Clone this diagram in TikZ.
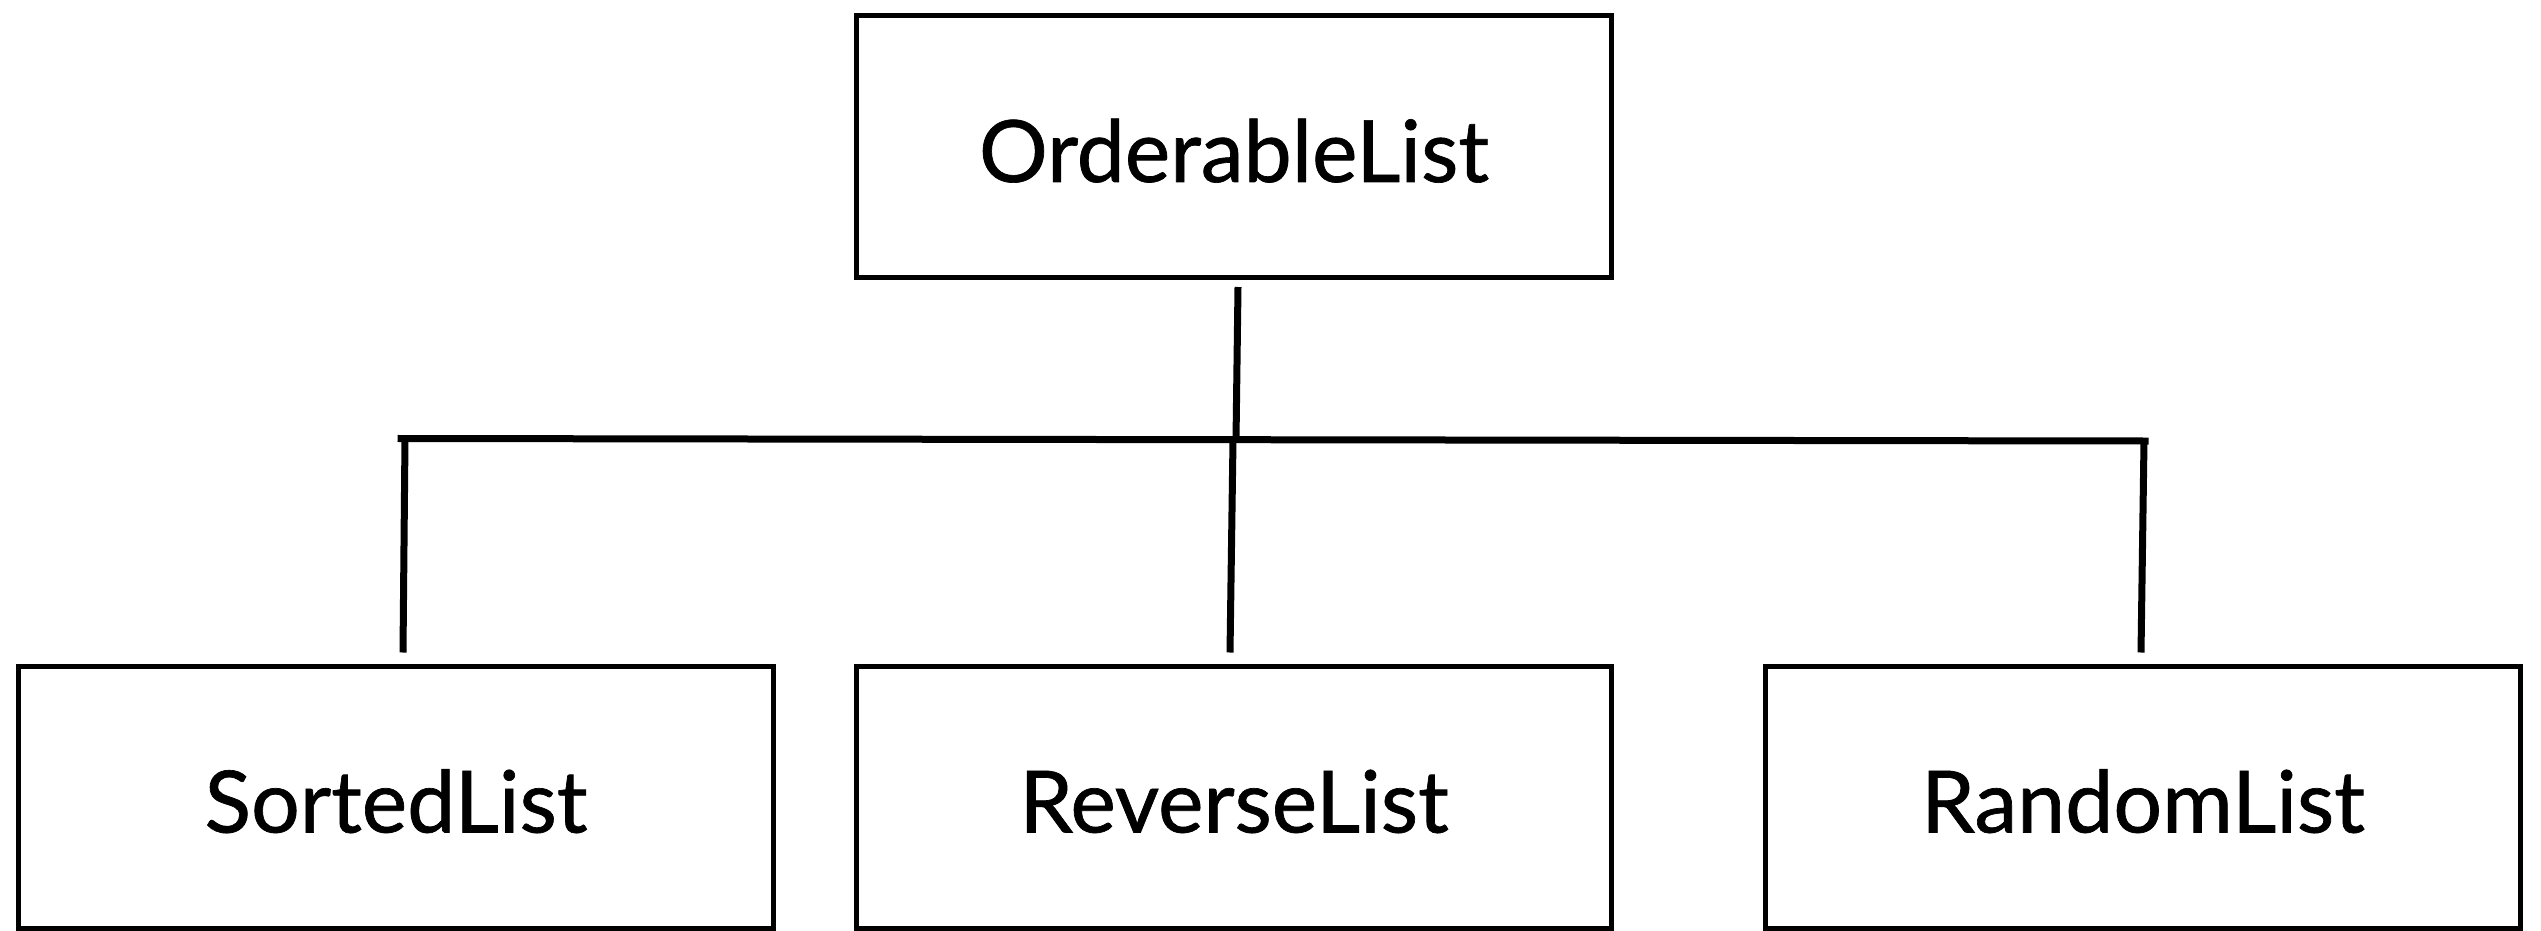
\documentclass[tikz,border=0pt]{standalone}
\usepackage{fontspec}
\setmainfont{Lato}[FakeBold=0.8]
\begin{document}
\begin{tikzpicture}[x=1pt,y=-1pt,
  classbox/.style={draw=black,line width=5pt,minimum width=755pt,minimum height=262pt,inner sep=0pt,text height=71pt,text depth=0pt,font=\fontsize{86}{90}\selectfont,text=black},
  link/.style={draw=black,line width=7pt}]
\useasboundingbox (0,0) rectangle (2541,931);
\fill[white] (0,0) rectangle (2541,931);
\node[classbox] (top) at (1234,146.5) {OrderableList};
\node[classbox] (sorted) at (396,797) {SortedList};
\node[classbox] (rev) at (1234,797) {ReverseList};
\node[classbox] (rand) at (2143,797) {RandomList};
\coordinate (hub) at (1236,440);
\coordinate (hl) at (401,438.5);
\coordinate (hr) at (2145,441);
\coordinate (hm) at (1233,440);
\coordinate (hl2) at (405,438.5);
\coordinate (hr2) at (2144,441);
\draw[link] ([xshift=4pt,yshift=-7pt]top.south) -- (hub);
\draw[link,line cap=rect] (hl) -- (hr);
\draw[link] (hl2) -- ([xshift=7pt,yshift=11pt]sorted.north);
\draw[link] (hm) -- ([xshift=-4pt,yshift=11pt]rev.north);
\draw[link] (hr2) -- ([xshift=-2pt,yshift=11pt]rand.north);
\end{tikzpicture}
\end{document}
